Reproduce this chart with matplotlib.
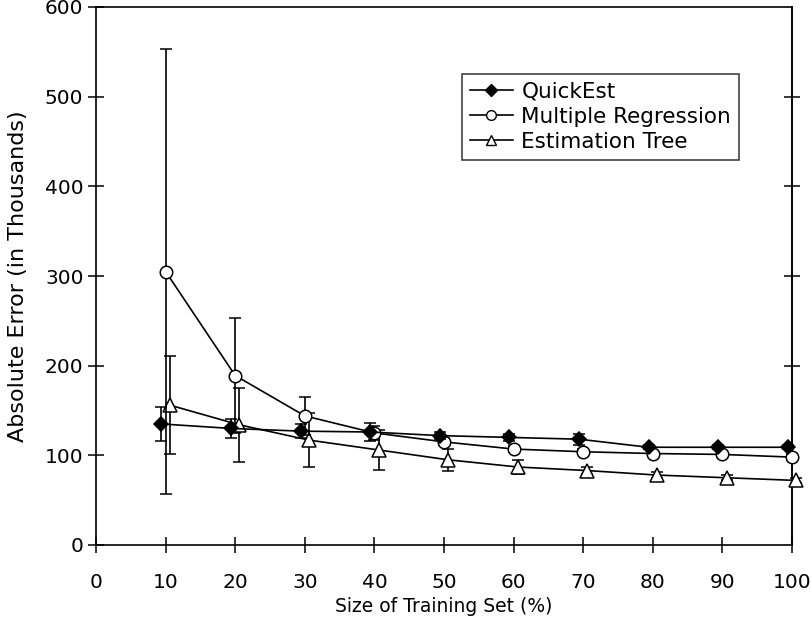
import matplotlib
matplotlib.use("Agg")
import matplotlib.pyplot as plt
from matplotlib.lines import Line2D
import numpy as np

plt.rcParams['font.family'] = ['DejaVu Sans']

# ---- data ----
train_size = [10, 20, 30, 40, 50, 60, 70, 80, 90, 100]
quickest = [135, 130, 127, 126, 122, 120, 118, 109, 109, 109]
quickest_err = [19, 11, 8, 10, 4, 4, 6, 2, 2, 2]
multi_reg = [305, 189, 144, 125, 115, 107, 104, 102, 101, 98]
multi_reg_err = [248, 64, 21, 8, 4, 3, 3, 3, 3, 3]
est_tree = [156, 134, 117, 106, 95, 87, 83, 78, 75, 72]
est_tree_err = [55, 41, 30, 22, 12, 8, 4, 3, 3, 3]
labels = ["QuickEst", "Multiple Regression", "Estimation Tree"]
x_ticks = [0, 10, 20, 30, 40, 50, 60, 70, 80, 90, 100]
y_ticks = [0, 100, 200, 300, 400, 500, 600]

W, H = 812, 635
fig = plt.figure(figsize=(W / 100, H / 100), dpi=100)
ax = fig.add_axes([96 / W, 1 - 545 / H, (792 - 96) / W, (545 - 7) / H])

x = np.array(train_size, dtype=float)
lw = 1.2
common = dict(color='black', lw=lw, elinewidth=lw, capsize=4.5, capthick=lw,
              clip_on=False, markeredgecolor='black', markeredgewidth=1.1)

ax.errorbar(x + 0.6, est_tree, yerr=est_tree_err, marker='^', markersize=10,
            markerfacecolor='white', zorder=3, **common)
ax.errorbar(x, multi_reg, yerr=multi_reg_err, marker='o', markersize=9,
            markerfacecolor='white', zorder=4, **common)
ax.errorbar(x - 0.6, quickest, yerr=quickest_err, marker='D', markersize=7.5,
            markerfacecolor='black', zorder=5, **common)

ax.set_xlim(0, 100)
ax.set_ylim(0, 600)
ax.set_xticks(x_ticks)
ax.set_yticks(y_ticks)

for s in ax.spines.values():
    s.set_linewidth(1.2)

ax.tick_params(axis='both', direction='inout', length=12, width=1.1,
               labelsize=14.5, colors='black')
ax.tick_params(axis='x', pad=14)
ax.tick_params(axis='y', pad=3)

sec = ax.secondary_yaxis('right')
sec.set_yticks([200, 300, 400, 500])
sec.set_yticklabels([])
sec.tick_params(direction='inout', length=12, width=1.1)
sec.spines['right'].set_linewidth(1.2)

ax.set_xlabel("Size of Training Set (%)", fontsize=13.5, labelpad=4)
ax.set_ylabel("Absolute Error (in Thousands)", fontsize=16, labelpad=12)

handles = [
    Line2D([], [], color='black', lw=lw, marker='D', markersize=6,
           markerfacecolor='black', markeredgecolor='black'),
    Line2D([], [], color='black', lw=lw, marker='o', markersize=7,
           markerfacecolor='white', markeredgecolor='black'),
    Line2D([], [], color='black', lw=lw, marker='^', markersize=7.5,
           markerfacecolor='white', markeredgecolor='black'),
]
leg = ax.legend(handles, labels, loc='upper left', bbox_to_anchor=(0.526, 0.876),
                borderaxespad=0, fontsize=15.5, frameon=True, fancybox=False,
                edgecolor='black', handlelength=2.0, handletextpad=0.4,
                labelspacing=0.25, borderpad=0.35)
leg.get_frame().set_linewidth(1.1)

fig.savefig("out.png", dpi=100)
